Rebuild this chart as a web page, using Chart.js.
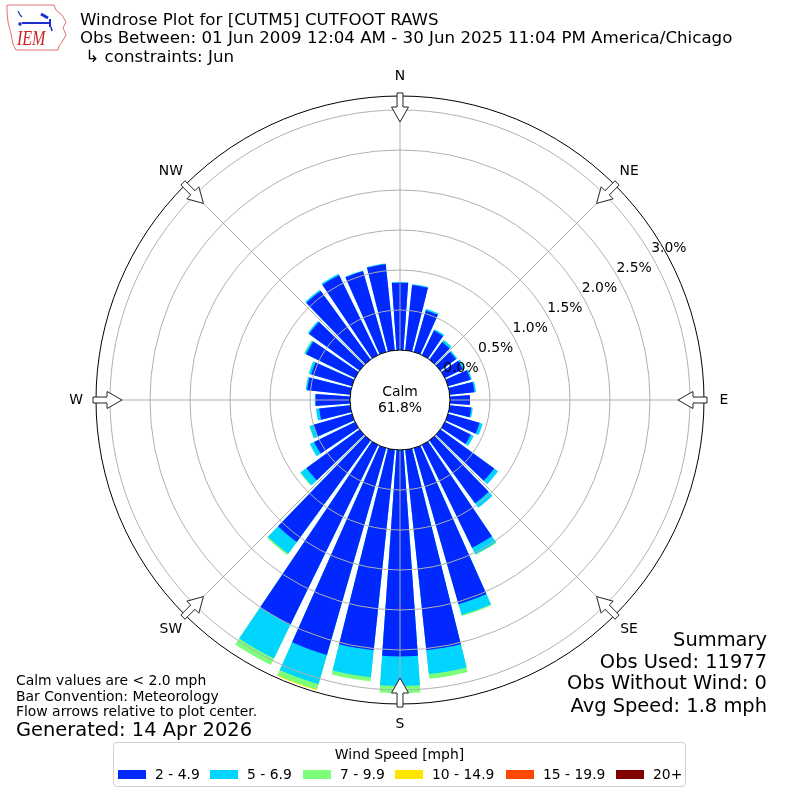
<!DOCTYPE html>
<html><head><meta charset="utf-8">
<script src="https://cdn.jsdelivr.net/npm/chart.js@4.4.0/dist/chart.umd.min.js"></script>
<style>
html,body{margin:0;padding:0;background:#fff;}
#wrap{position:relative;width:800px;height:800px;font-family:"DejaVu Sans",sans-serif;color:#000;overflow:hidden;}
#c{position:absolute;left:0;top:0;}
.t{position:absolute;white-space:pre;line-height:1;}
.r{text-align:right;}
#legend{position:absolute;left:113px;top:742px;width:573px;height:45px;border:1px solid #cfcfcf;border-radius:4px;box-sizing:border-box;}
.sw{position:absolute;width:28px;height:9px;}
</style></head><body>
<div id="wrap">
<canvas id="c" width="800" height="800"></canvas>
<div class="t" style="left:80px;top:12px;font-size:16.67px">Windrose Plot for [CUTM5] CUTFOOT RAWS</div>
<div class="t" style="left:80px;top:30px;font-size:16.67px">Obs Between: 01 Jun 2009 12:04 AM - 30 Jun 2025 11:04 PM America/Chicago</div>
<div class="t" style="left:80px;top:48.5px;font-size:16.67px"> ↳ constraints: Jun</div>
<div class="t" style="left:16px;top:673.6px;font-size:13.9px">Calm values are &lt; 2.0 mph</div>
<div class="t" style="left:16px;top:689.5px;font-size:13.9px">Bar Convention: Meteorology</div>
<div class="t" style="left:16px;top:705px;font-size:13.9px">Flow arrows relative to plot center.</div>
<div class="t" style="left:16px;top:719.5px;font-size:19.44px">Generated: 14 Apr 2026</div>
<div class="t r" style="right:33px;top:630.2px;font-size:19.44px">Summary</div>
<div class="t r" style="right:33px;top:651.7px;font-size:19.44px">Obs Used: 11977</div>
<div class="t r" style="right:33px;top:673.2px;font-size:19.44px">Obs Without Wind: 0</div>
<div class="t r" style="right:33px;top:695.7px;font-size:19.44px">Avg Speed: 1.8 mph</div>
<div id="legend"></div>
</div>
<script>
// ---------------- data ----------------
const directions = [0,10,20,30,40,50,60,70,80,90,100,110,120,130,140,150,160,170,180,190,200,210,220,230,240,250,260,270,280,290,300,310,320,330,340,350];
const compassLabels = ['N','NE','E','SE','S','SW','W','NW'];
const compassAngles = [0,45,90,135,180,225,270,315];
const speedBins = ['2 - 4.9','5 - 6.9','7 - 9.9','10 - 14.9','15 - 19.9','20+'];
const binColors = ['#0028ff','#00d4ff','#7dff7a','#ffe600','#ff4800','#800000'];
// percent of observations, per direction (0..350 by 10)
const bin2to5 = [0.84,0.82,0.54,0.34,0.27,0.24,0.25,0.29,0.31,0.25,0.27,0.41,0.36,0.83,0.97,1.43,2.03,2.52,2.58,2.52,2.69,2.50,1.57,0.82,0.57,0.50,0.39,0.43,0.54,0.53,0.68,0.78,1.06,1.11,1.05,1.08];
const bin5to7 = [0.01,0.01,0.02,0.02,0.03,0.02,0.03,0.02,0.02,0.00,0.02,0.04,0.04,0.06,0.07,0.09,0.14,0.30,0.37,0.34,0.38,0.47,0.18,0.09,0.06,0.05,0.04,0.01,0.02,0.03,0.02,0.02,0.02,0.02,0.01,0.01];
const bin7to10 = [0,0,0,0,0.005,0,0,0,0,0,0,0,0,0,0,0.01,0.015,0.06,0.09,0.05,0.07,0.09,0.02,0.01,0,0.005,0,0,0,0.005,0.01,0,0,0,0,0];
const bin10to15 = [0,0,0,0,0,0,0,0,0,0,0,0,0,0,0,0,0,0,0,0,0.01,0,0,0,0,0,0,0,0,0,0,0,0,0,0,0];
const bin15to20 = [0,0,0,0,0,0,0,0,0,0,0,0,0,0,0,0,0,0,0,0,0,0,0,0,0,0,0,0,0,0,0,0,0,0,0,0];
const bin20plus = [0,0,0,0,0,0,0,0,0,0,0,0,0,0,0,0,0,0,0,0,0,0,0,0,0,0,0,0,0,0,0,0,0,0,0,0];
const ringTicks = [0.0,0.5,1.0,1.5,2.0,2.5,3.0];
const calmPct = 61.8;
const legendTitle = 'Wind Speed [mph]';

// ---------------- build ----------------
const bins = [bin2to5, bin5to7, bin7to10, bin10to15, bin15to20, bin20plus];
const cumulative = [];
let run = directions.map(() => 0);
bins.forEach(b => { run = run.map((v, i) => v + b[i]); cumulative.push(run.slice()); });
const labels = [];
directions.forEach(d => { labels.push(d + '°'); labels.push(''); });
const BAR_DEG = 8, GAP_DEG = 2;
const datasets = cumulative.map((cum, k) => ({
  label: speedBins[k],
  data: cum.flatMap(v => [v, 0]),
  backgroundColor: ctx => {
    if (ctx.dataIndex % 2) return 'rgba(0,0,0,0)';
    const i = ctx.dataIndex / 2;
    return bins[k][i] > 0 ? binColors[k] : 'rgba(0,0,0,0)';
  },
  borderWidth: 0,
  angle: ctx => (ctx.dataIndex % 2 ? GAP_DEG : BAR_DEG)
}));

const R_MIN = -0.625, R_MAX = 3.175;
const FONT = '"DejaVu Sans", sans-serif';

function pt(cx, cy, r, deg) {
  const a = deg * Math.PI / 180;
  return [cx + r * Math.sin(a), cy - r * Math.cos(a)];
}

const windPlugin = {
  id: 'windrose',
  afterDatasetsDraw(chart) {
    const s = chart.scales.r, ctx = chart.ctx;
    const cx = s.xCenter, cy = s.yCenter;
    const r0 = s.getDistanceFromCenterForValue(0);
    const rOut = s.getDistanceFromCenterForValue(R_MAX);
    ctx.save();
    ctx.strokeStyle = '#b0b0b0'; ctx.lineWidth = 1;
    compassAngles.forEach(a => {
      const p1 = pt(cx, cy, r0, a), p2 = pt(cx, cy, rOut, a);
      ctx.beginPath(); ctx.moveTo(p1[0], p1[1]); ctx.lineTo(p2[0], p2[1]); ctx.stroke();
    });
    ctx.beginPath(); ctx.arc(cx, cy, r0, 0, Math.PI * 2);
    ctx.fillStyle = '#fff'; ctx.fill();
    ctx.strokeStyle = '#000'; ctx.lineWidth = 1; ctx.stroke();
    ctx.restore();
  },
  afterDraw(chart) {
    const s = chart.scales.r, ctx = chart.ctx;
    const cx = s.xCenter, cy = s.yCenter;
    const rOut = s.getDistanceFromCenterForValue(R_MAX);
    ctx.save();
    // arrows
    compassAngles.forEach(a => {
      const rad = a * Math.PI / 180;
      const din = [-Math.sin(rad), Math.cos(rad)], perp = [Math.cos(rad), Math.sin(rad)];
      const tail = pt(cx, cy, rOut + 3, a);
      const L = 29, HL = 15, SW = 3, HW = 8.5;
      const loc = [[0,-SW],[L-HL,-SW],[L-HL,-HW],[L,0],[L-HL,HW],[L-HL,SW],[0,SW]];
      ctx.beginPath();
      loc.forEach(([u, v], j) => {
        const x = tail[0] + u * din[0] + v * perp[0], y = tail[1] + u * din[1] + v * perp[1];
        j ? ctx.lineTo(x, y) : ctx.moveTo(x, y);
      });
      ctx.closePath();
      ctx.fillStyle = '#fff'; ctx.fill();
      ctx.strokeStyle = '#222'; ctx.lineWidth = 1; ctx.stroke();
    });
    // compass labels
    ctx.fillStyle = '#000';
    ctx.font = '13.9px ' + FONT;
    ctx.textAlign = 'center'; ctx.textBaseline = 'middle';
    compassLabels.forEach((lab, j) => {
      const p = pt(cx, cy, rOut + 20, compassAngles[j]);
      ctx.fillText(lab, p[0], p[1]);
    });
    // ring labels
    ctx.textAlign = 'left'; ctx.textBaseline = 'alphabetic';
    ringTicks.forEach(v => {
      const p = pt(cx, cy, s.getDistanceFromCenterForValue(v), 60);
      ctx.fillText(v.toFixed(1) + '%', p[0], p[1] - 3);
    });
    // calm
    ctx.textAlign = 'center'; ctx.textBaseline = 'middle';
    ctx.fillText('Calm', cx, cy - 8);
    ctx.fillText(calmPct.toFixed(1) + '%', cx, cy + 8);
    // IEM logo
    ctx.strokeStyle = '#e07070'; ctx.lineWidth = 1;
    ctx.beginPath();
    [[7,5],[54,5],[56,10],[62,15],[66,22],[63,28],[66,35],[62,42],[59,46],[58,50],[16,50],[13,44],[11,34],[8,22],[7,12]].forEach(([x,y],j)=> j?ctx.lineTo(x,y):ctx.moveTo(x,y));
    ctx.closePath(); ctx.stroke();
    ctx.strokeStyle = '#1a2fd0'; ctx.fillStyle = '#1a2fd0'; ctx.lineWidth = 2;
    ctx.beginPath(); ctx.moveTo(22,23); ctx.lineTo(51,23); ctx.stroke();
    ctx.beginPath(); ctx.moveTo(50,19); ctx.lineTo(50,27); ctx.stroke();
    ctx.lineWidth = 1.2;
    ctx.beginPath(); ctx.moveTo(18,11); ctx.lineTo(20,15); ctx.lineTo(22,17); ctx.stroke();
    ctx.lineWidth = 3;
    ctx.beginPath(); ctx.moveTo(41,14); ctx.lineTo(48,18); ctx.stroke();
    ctx.lineWidth = 1.5;
    ctx.beginPath(); ctx.moveTo(51,27); ctx.lineTo(52,31); ctx.stroke();
    ctx.beginPath(); ctx.arc(20,24,1.8,0,7); ctx.fill();
    ctx.fillStyle = '#cc2222';
    ctx.translate(17, 45); ctx.scale(1, 1.25);
    ctx.font = 'italic 16px "Liberation Serif", serif';
    ctx.textAlign = 'left'; ctx.textBaseline = 'alphabetic';
    ctx.fillText('IEM', 0, 0);
    ctx.restore();
  }
};

new Chart(document.getElementById('c'), {
  type: 'polarArea',
  data: { labels, datasets },
  options: {
    responsive: false,
    animation: false,
    events: [],
    layout: { padding: 96 },
    plugins: { legend: { display: false }, tooltip: { enabled: false } },
    scales: {
      r: {
        min: R_MIN, max: R_MAX,
        startAngle: -BAR_DEG / 2,
        ticks: { display: false },
        pointLabels: { display: false },
        angleLines: { display: false },
        afterBuildTicks: sc => { sc.ticks = ringTicks.filter(v => v > 0).concat([R_MAX]).map(v => ({ value: v })); },
        grid: {
          z: 1, circular: true,
          color: c => (c.tick && c.tick.value >= R_MAX - 1e-6 ? '#000' : '#b0b0b0'),
          lineWidth: 1
        }
      }
    }
  },
  plugins: [windPlugin]
});

// legend (HTML, real text)
const lg = document.getElementById('legend');
const tt = document.createElement('div');
tt.className = 't'; tt.style.cssText = 'left:0;width:100%;text-align:center;top:5px;font-size:13.9px';
tt.textContent = legendTitle; lg.appendChild(tt);
const swX = [4, 96, 189, 281, 392, 502];
speedBins.forEach((b, k) => {
  const sw = document.createElement('div'); sw.className = 'sw';
  sw.style.left = swX[k] + 'px'; sw.style.top = '27px'; sw.style.background = binColors[k];
  lg.appendChild(sw);
  const tx = document.createElement('div'); tx.className = 't';
  tx.style.cssText = 'left:' + (swX[k] + 37) + 'px;top:25px;font-size:13.9px';
  tx.textContent = b; lg.appendChild(tx);
});
</script>
</body></html>
